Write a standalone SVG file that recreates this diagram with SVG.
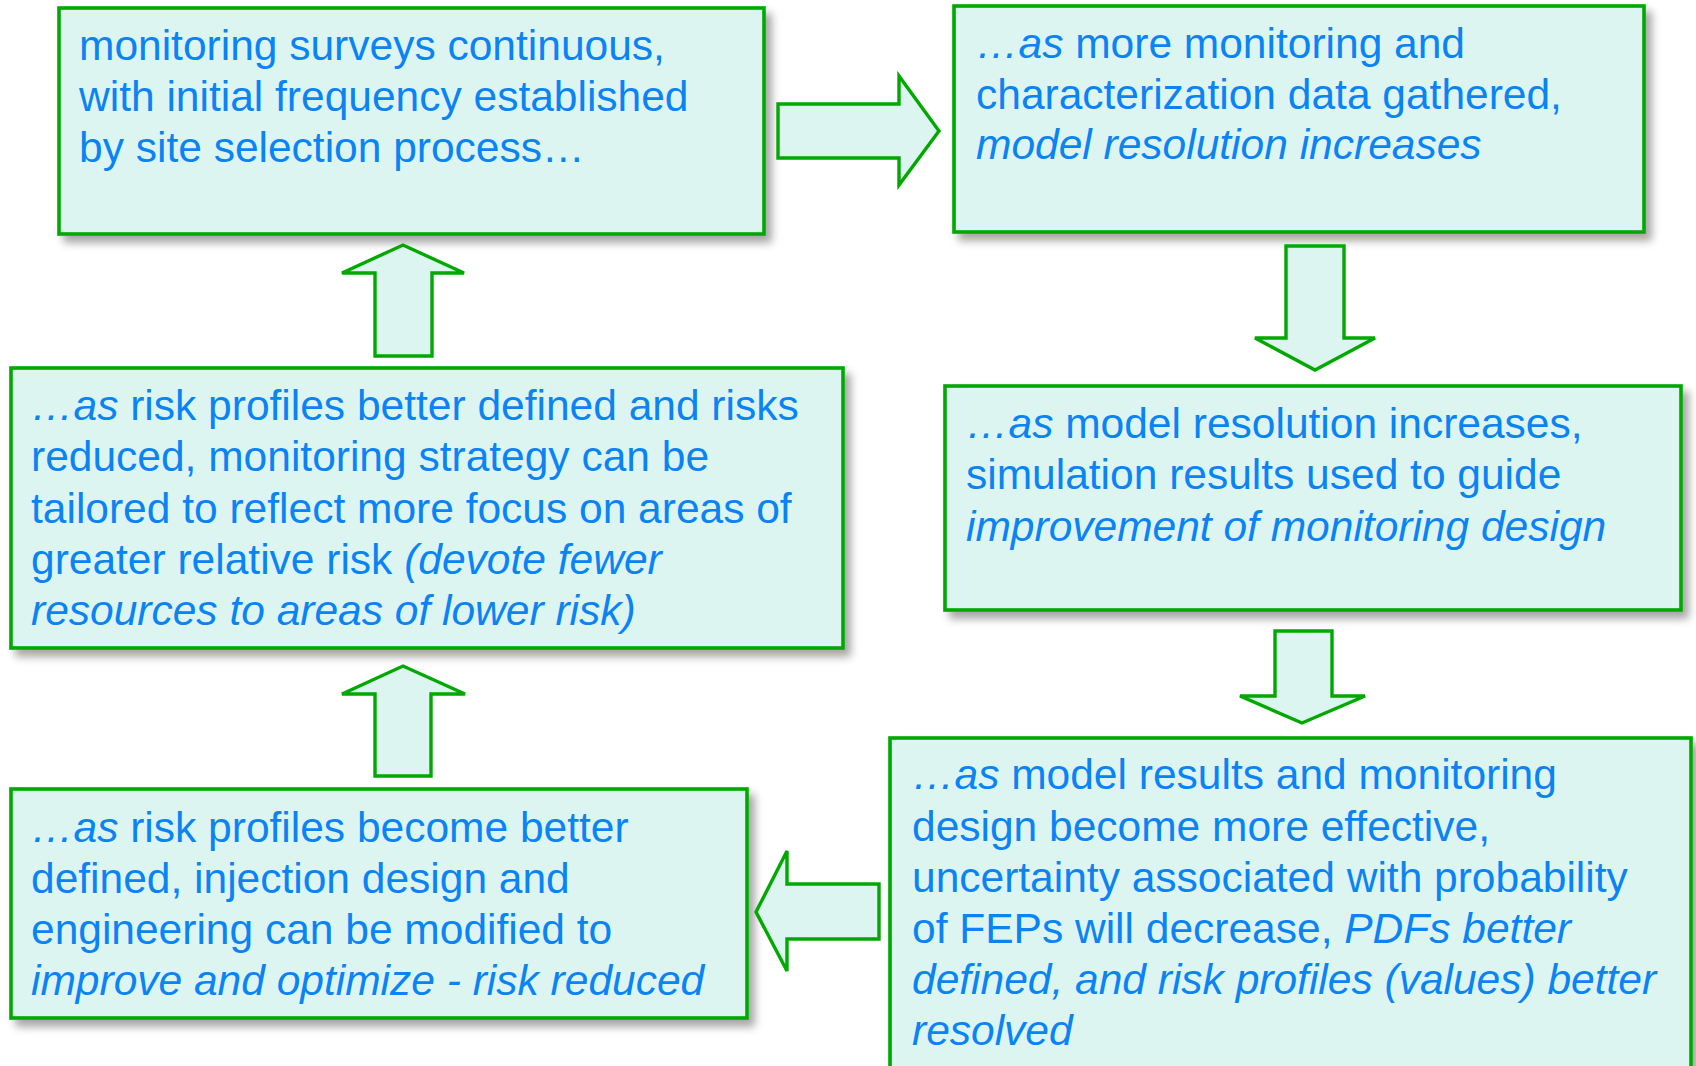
<svg xmlns="http://www.w3.org/2000/svg" width="1696" height="1066" viewBox="0 0 1696 1066">
  <defs>
    <filter id="shadow" x="-5%" y="-5%" width="115%" height="120%">
      <feDropShadow dx="6" dy="7" stdDeviation="4" flood-color="#000" flood-opacity="0.35"/>
    </filter>
    <style>
      .box { fill: #ddf5f0; stroke: #00a800; stroke-width: 3.6; filter: url(#shadow); }
      .arrow { fill: #ddf5f0; stroke: #00a800; stroke-width: 3.4; stroke-linejoin: miter; }
      text { font-family: "Liberation Sans", Arial, sans-serif; font-size: 42.5px; fill: #0a84f5; }
      .it { font-style: italic; }
    </style>
  </defs>
  <rect width="1696" height="1066" fill="#ffffff"/>

  <g id="node-surveys">
    <rect class="box" x="59" y="8" width="705" height="226"/>
    <text x="79" y="59.5">monitoring surveys continuous,</text>
    <text x="79" y="110.5">with initial frequency established</text>
    <text x="79" y="161.5">by site selection process…</text>
  </g>

  <g id="node-data">
    <rect class="box" x="954" y="6" width="690" height="226"/>
    <text x="976" y="57.5"><tspan class="it">…as</tspan> more monitoring and</text>
    <text x="976" y="108.5">characterization data gathered,</text>
    <text x="976" y="159" class="it">model resolution increases</text>
  </g>

  <g id="node-simulation">
    <rect class="box" x="945" y="386" width="736" height="224"/>
    <text x="966" y="437.5"><tspan class="it">…as</tspan> model resolution increases,</text>
    <text x="966" y="489">simulation results used to guide</text>
    <text x="966" y="540.5" class="it">improvement of monitoring design</text>
  </g>

  <g id="node-uncertainty">
    <rect class="box" x="890" y="738" width="801" height="350"/>
    <text x="912" y="789"><tspan class="it">…as</tspan> model results and monitoring</text>
    <text x="912" y="840.5">design become more effective,</text>
    <text x="912" y="891.5">uncertainty associated with probability</text>
    <text x="912" y="943">of FEPs will decrease, <tspan class="it">PDFs better</tspan></text>
    <text x="912" y="994" class="it">defined, and risk profiles (values) better</text>
    <text x="912" y="1045" class="it">resolved</text>
  </g>

  <g id="node-engineering">
    <rect class="box" x="11" y="789" width="736" height="229"/>
    <text x="31" y="842"><tspan class="it">…as</tspan> risk profiles become better</text>
    <text x="31" y="893">defined, injection design and</text>
    <text x="31" y="944">engineering can be modified to</text>
    <text x="31" y="995" class="it">improve and optimize - risk reduced</text>
  </g>

  <g id="node-strategy">
    <rect class="box" x="11" y="368" width="832" height="280"/>
    <text x="31" y="419.5"><tspan class="it">…as</tspan> risk profiles better defined and risks</text>
    <text x="31" y="471">reduced, monitoring strategy can be</text>
    <text x="31" y="522.5">tailored to reflect more focus on areas of</text>
    <text x="31" y="573.5">greater relative risk <tspan class="it">(devote fewer</tspan></text>
    <text x="31" y="624.5" class="it">resources to areas of lower risk)</text>
  </g>

  <g id="connectors">
    <polygon class="arrow" points="778,104 899,104 899,76 939,131 899,185 899,158 778,158"/>
    <polygon class="arrow" points="1286,246 1344,246 1344,338 1375,338 1315,370 1255,338 1286,338"/>
    <polygon class="arrow" points="1275,631 1332,631 1332,696 1365,696 1302,723 1240,696 1275,696"/>
    <polygon class="arrow" points="879,884 787,884 787,851 756,912 787,971 787,939 879,939"/>
    <polygon class="arrow" points="375,776 375,694 342,694 403,666 465,694 431,694 431,776"/>
    <polygon class="arrow" points="375,356 375,273 342,273 403,245 464,273 432,273 432,356"/>
  </g>
</svg>
